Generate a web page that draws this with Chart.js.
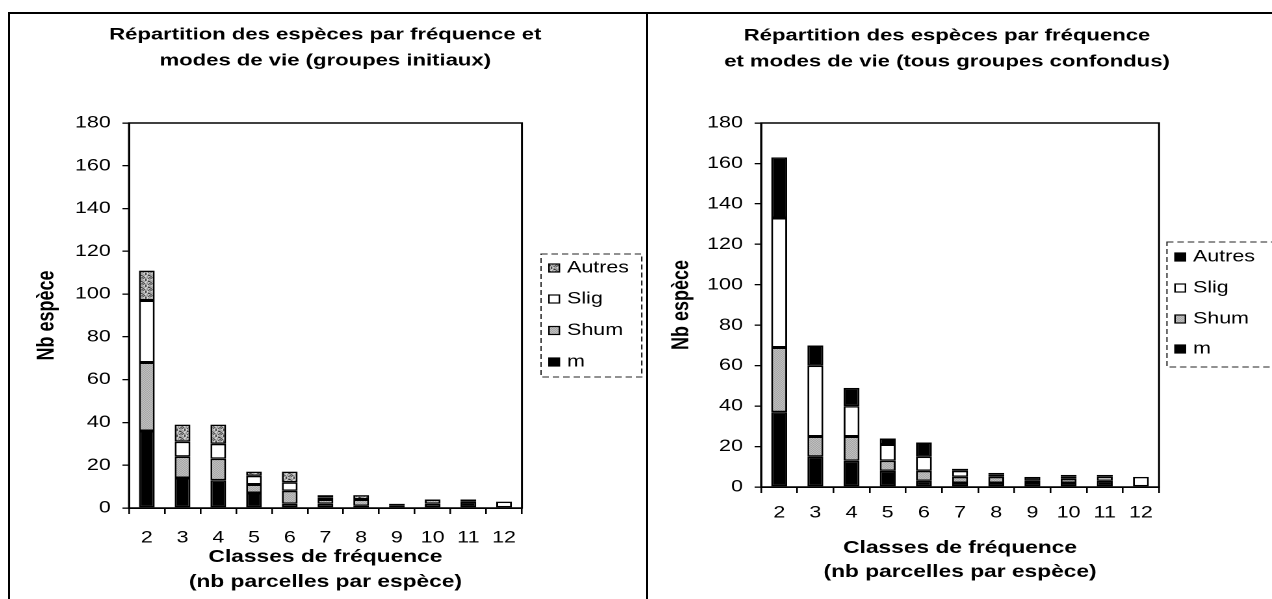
<!DOCTYPE html>
<html>
<head>
<meta charset="utf-8">
<script src="https://cdn.jsdelivr.net/npm/chart.js@4.4.1/dist/chart.umd.min.js"></script>
<style>
  html, body { margin: 0; padding: 0; background: #fff; }
  body { width: 1272px; height: 599px; position: relative; overflow: hidden; }
  .wrap { position: absolute; transform: scaleX(1.3); transform-origin: 0 0; }
  .rule { position: absolute; background: #000; z-index: 5; }
</style>
</head>
<body>
<div class="wrap" style="left:10px;top:14px;width:489px;height:585px"><canvas id="chartInit" width="489" height="585"></canvas></div>
<div class="wrap" style="left:648px;top:14px;width:480px;height:585px"><canvas id="chartAll" width="480" height="585"></canvas></div>
<div class="rule" style="left:8px;top:12px;width:1264px;height:2px"></div>
<div class="rule" style="left:8px;top:12px;width:2px;height:587px"></div>
<div class="rule" style="left:646px;top:12px;width:2px;height:587px"></div>
<script>
// Frequency classes (number of plots per species)
const categories = ['2', '3', '4', '5', '6', '7', '8', '9', '10', '11', '12'];
const yMax = 180;
const yStep = 20;
const seriesNames = ['m', 'Shum', 'Slig', 'Autres'];

// Initial groups
const initM      = [36, 14, 13, 7, 2, 2, 1, 1, 2, 3, 0];
const initShum   = [32, 10, 10, 4, 6, 2, 3, 0, 2, 0, 0];
const initSlig   = [29,  7,  7, 4, 4, 1, 0, 1, 0, 1, 3];
const initAutres = [14,  8,  9, 2, 5, 1, 2, 0, 0, 0, 0];

// All groups merged
const allM      = [37, 15, 13, 8, 3, 2, 2, 2, 2, 3, 0];
const allShum   = [32, 10, 12, 5, 5, 3, 3, 0, 2, 0, 0];
const allSlig   = [64, 35, 15, 8, 7, 3, 1, 1, 1, 2, 5];
const allAutres = [30, 10,  9, 3, 7, 1, 1, 2, 1, 1, 0];

const FONT = "'Liberation Sans', Arial, sans-serif";
Chart.defaults.font.family = FONT;
Chart.defaults.color = '#000';

// Small repeating fills for the hatched series
function makePattern(rows, palette) {
  const h = rows.length, w = rows[0].length;
  const c = document.createElement('canvas');
  c.width = w; c.height = h;
  const g = c.getContext('2d');
  for (let y = 0; y < h; y++) {
    for (let x = 0; x < w; x++) {
      g.fillStyle = palette[rows[y][x]];
      g.fillRect(x, y, 1, 1);
    }
  }
  return g.createPattern(c, 'repeat');
}
const stipple = makePattern(['ab', 'ba'], { a: '#858585', b: '#e2e2e2' });
const speckle = makePattern([
  'k.g.k.',
  '..k..g',
  'g.k.g.',
  '.g..kk',
  'k..g..',
  '.k.g.k'
], { k: '#000', g: '#777', '.': '#e6e6e6' });

// Outline of the plotting area (top and right edges included)
const plotFrame = {
  id: 'plotFrame',
  beforeDatasetsDraw(chart) {
    const { left, top, right, bottom } = chart.chartArea;
    const ctx = chart.ctx;
    ctx.save();
    ctx.lineWidth = 1.5;
    ctx.strokeStyle = '#000';
    ctx.strokeRect(left, top, right - left, bottom - top);
    ctx.restore();
  }
};

// Legend inside a dashed box, series listed top to bottom in stack order
const boxLegend = {
  id: 'boxLegend',
  afterDraw(chart, args, o) {
    const ctx = chart.ctx;
    ctx.save();
    ctx.setLineDash([5, 3]);
    ctx.lineWidth = 1;
    ctx.strokeStyle = '#222';
    ctx.strokeRect(o.left, o.top, o.width, o.height);
    ctx.setLineDash([]);
    ctx.font = o.fontSize + 'px ' + FONT;
    ctx.textBaseline = 'middle';
    ctx.textAlign = 'left';
    const ds = chart.data.datasets.slice().reverse();
    ds.forEach((d, i) => {
      const y = o.rows[i];
      ctx.fillStyle = d.backgroundColor;
      ctx.fillRect(o.markX, y - o.mark / 2, o.mark, o.mark);
      ctx.lineWidth = 1.2;
      ctx.strokeStyle = '#000';
      ctx.strokeRect(o.markX, y - o.mark / 2, o.mark, o.mark);
      ctx.fillStyle = '#000';
      ctx.fillText(d.label, o.textX, y);
    });
    ctx.restore();
  }
};

function makeDatasets(values, colors) {
  return seriesNames.map((name, i) => ({
    label: name,
    data: values[i],
    backgroundColor: colors[i],
    borderColor: '#000',
    borderWidth: 1.5,
    borderSkipped: false,
    barPercentage: 0.44,
    categoryPercentage: 1
  }));
}

function makeChart(id, title, values, colors, g) {
  return new Chart(document.getElementById(id), {
    type: 'bar',
    data: { labels: categories, datasets: makeDatasets(values, colors) },
    plugins: [plotFrame, boxLegend],
    options: {
      responsive: false,
      animation: false,
      devicePixelRatio: 2,
      layout: { padding: { left: 0, right: g.padRight, top: 0, bottom: 0 } },
      plugins: {
        legend: { display: false },
        tooltip: { enabled: false },
        title: {
          display: true,
          text: title,
          color: '#000',
          font: { size: 17, weight: 'bold', lineHeight: 26 / 17 },
          padding: { top: g.titleTop, bottom: g.titleBottom }
        },
        boxLegend: g.legend
      },
      scales: {
        x: {
          type: 'category',
          stacked: true,
          offset: true,
          grid: { offset: true, drawOnChartArea: false, drawTicks: true, tickLength: 6, color: '#000', lineWidth: 1.3 },
          border: { display: true, color: '#000', width: 1.5 },
          ticks: { color: '#000', font: { size: 16.5 }, padding: g.xTickPad, maxRotation: 0, autoSkip: false },
          title: {
            display: true,
            text: ['Classes de fréquence', '(nb parcelles par espèce)'],
            color: '#000',
            font: { size: 17.5, weight: 'bold', lineHeight: g.xTitleLH },
            padding: { top: 0, bottom: g.xTitleBottom }
          },
          afterFit(s) { s.height = g.xHeight; }
        },
        y: {
          stacked: true,
          min: 0,
          max: yMax,
          grid: { drawOnChartArea: false, drawTicks: true, tickLength: 5, color: '#000', lineWidth: 1.3 },
          border: { display: true, color: '#000', width: 1.5 },
          ticks: { stepSize: yStep, color: '#000', font: { size: 16.5 }, padding: 9 },
          title: {
            display: true,
            text: 'Nb espèce',
            color: '#000',
            font: { size: 18, weight: 'bold', lineHeight: 1.2 },
            padding: { top: g.yTitlePad, bottom: 0 }
          },
          afterFit(s) { s.width = g.yWidth; }
        },
        legendSpace: {
          type: 'linear',
          position: 'right',
          display: true,
          grid: { display: false },
          border: { display: false },
          ticks: { display: false },
          afterFit(s) { s.width = g.rightSpace; }
        }
      }
    }
  });
}

makeChart('chartInit',
  ['Répartition des espèces par fréquence et', 'modes de vie (groupes initiaux)'],
  [initM, initShum, initSlig, initAutres],
  ['#000', stipple, '#fff', speckle],
  {
    padRight: 4, yWidth: 91.5, rightSpace: 91.2,
    titleTop: 8, titleBottom: 49,
    yTitlePad: 17.5,
    xHeight: 91, xTickPad: 14, xTitleLH: 25 / 17.5, xTitleBottom: 4.5,
    legend: { left: 408.5, top: 240, width: 77.5, height: 123, markX: 414.6, mark: 8, textX: 428.5, fontSize: 16.5, rows: [254, 285, 316.5, 348] }
  });

makeChart('chartAll',
  ['Répartition des espèces par fréquence', 'et modes de vie (tous groupes confondus)'],
  [allM, allShum, allSlig, allAutres],
  ['#000', stipple, '#fff', '#000'],
  {
    padRight: 20, yWidth: 87, rightSpace: 66.9,
    titleTop: 9, titleBottom: 48,
    yTitlePad: 15,
    xHeight: 112, xTickPad: 10, xTitleLH: 24 / 17.5, xTitleBottom: 15,
    legend: { left: 399.2, top: 228, width: 85, height: 125, markX: 405.4, mark: 8, textX: 419.2, fontSize: 16.5, rows: [243, 274, 305, 335] }
  });
</script>
</body>
</html>
